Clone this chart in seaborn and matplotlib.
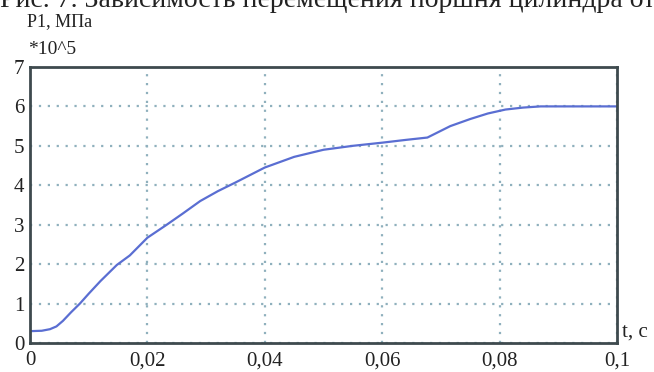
import matplotlib
matplotlib.use('Agg')
import matplotlib.pyplot as plt
import seaborn as sns
import pandas as pd

# Данные (t, c ; P1 *10^5)
t = [0.0, 0.002, 0.0034, 0.0045, 0.0056, 0.007, 0.0085, 0.010, 0.012, 0.0148, 0.017,
     0.020, 0.0233, 0.026, 0.029, 0.032, 0.035, 0.040, 0.045, 0.050, 0.055, 0.060,
     0.064, 0.0677, 0.0716, 0.075, 0.078, 0.081, 0.084, 0.087, 0.090, 0.095, 0.100]
p1 = [0.30, 0.31, 0.35, 0.42, 0.56, 0.78, 1.00, 1.25, 1.57, 1.98, 2.22,
      2.67, 3.00, 3.28, 3.60, 3.85, 4.07, 4.45, 4.72, 4.90, 5.00, 5.08,
      5.15, 5.21, 5.50, 5.68, 5.82, 5.92, 5.97, 6.00, 6.00, 6.00, 6.00]
xticks = [0, 0.02, 0.04, 0.06, 0.08, 0.1]
xlabels = ['0', '0,02', '0,04', '0,06', '0,08', '0,1']
yticks = [0, 1, 2, 3, 4, 5, 6, 7]

df = pd.DataFrame({'t': t, 'P1': p1})

sns.set_style('white')
plt.rcParams['font.family'] = ['Liberation Serif', 'DejaVu Serif']

fig = plt.figure(figsize=(6.54, 3.72), dpi=100)
ax = fig.add_axes([0.0459, 0.078, 0.8975, 0.742])

sns.lineplot(data=df, x='t', y='P1', ax=ax, color='#5a6ed2', linewidth=1.6)

ax.set_xlim(0, 0.1)
ax.set_ylim(0, 7)
ax.set_xticks(xticks)
ax.set_xticklabels(xlabels)
ax.set_yticks(yticks)
ax.tick_params(axis='both', direction='in', length=3, width=1.5, color='#555555',
               labelsize=15, labelcolor='#222222')
ax.tick_params(axis='x', pad=6)
ax.tick_params(axis='y', pad=4)
ax.grid(True, linestyle=(0, (1, 3)), color='#8fb0bd', linewidth=1.6)
for s in ax.spines.values():
    s.set_color('#3e4a4e')
    s.set_linewidth(2)
ax.set_xlabel('')
ax.set_ylabel('')

fig.text(0.951, 0.083, 't, c', fontsize=15, color='#222222', ha='left', va='bottom')
# заголовок срезан сверху, как на исходном рисунке
fig.text(0.0, 0.982, 'Рис. 7. Зависимость перемещения поршня цилиндра от в',
         fontsize=20, color='#222222', ha='left', va='baseline')
fig.text(0.041, 0.941, 'P1, МПа', fontsize=13, color='#222222', ha='left', va='center',
         bbox=dict(facecolor='white', edgecolor='none', pad=1))
fig.text(0.043, 0.866, '*10^5', fontsize=14, color='#222222', ha='left', va='center')

fig.savefig('out.png', dpi=100)
